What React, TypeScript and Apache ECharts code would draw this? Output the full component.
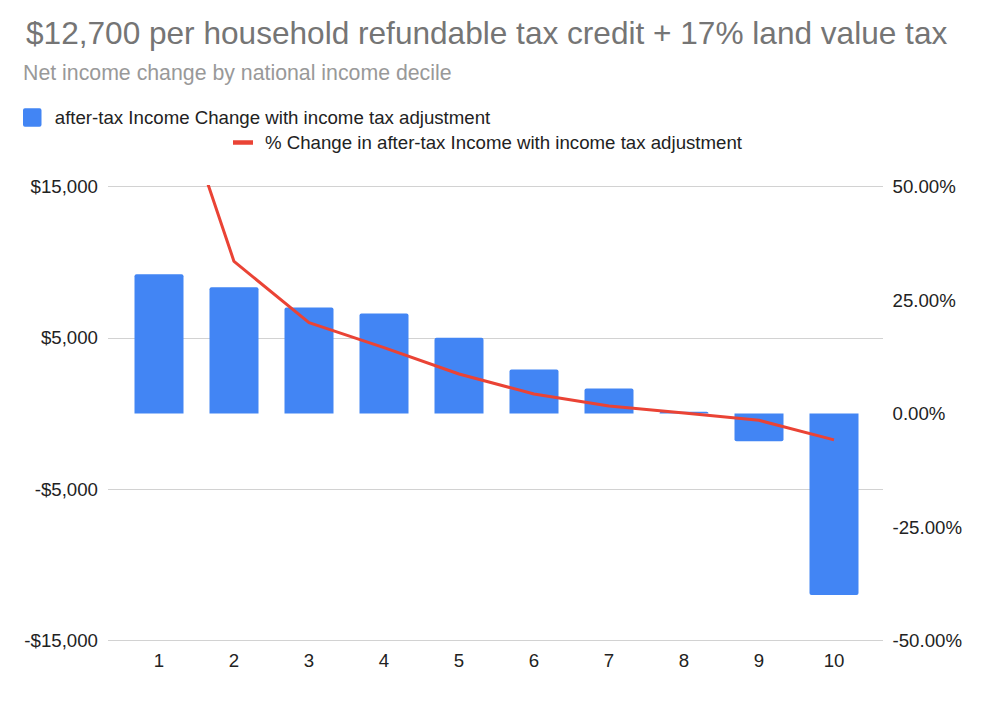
import React, { useEffect, useRef } from "react";
import * as echarts from "echarts";

// Income deciles on the category axis
const deciles = ["1", "2", "3", "4", "5", "6", "7", "8", "9", "10"];

// Net after-tax income change per household, in dollars
const incomeChange = [9200, 8350, 7000, 6600, 5000, 2900, 1650, 120, -1830, -12000];

// Percent change in after-tax income, in percent
const pctChange = [82.5, 33.5, 20.0, 14.5, 8.7, 4.3, 1.65, 0.1, -1.5, -5.8];

// Axis ranges and tick steps
const dollarMin = -15000;
const dollarMax = 15000;
const dollarStep = 10000;
const pctMin = -50;
const pctMax = 50;
const pctStep = 25;

const titleText = "$12,700 per household refundable tax credit + 17% land value tax";
const subtitleText = "Net income change by national income decile";
const barName = "after-tax Income Change with income tax adjustment";
const lineName = "% Change in after-tax Income with income tax adjustment";

const FONT = "'Liberation Sans', Arial, Helvetica, sans-serif";
const BLUE = "#4285F4";
const RED = "#EA4335";
const LABEL = "#222222";
const GRIDLINE = "#d2d2d2";

const fmtDollar = (v: number) =>
  (v < 0 ? "-$" : "$") + Math.abs(v).toLocaleString("en-US");
const fmtPct = (v: number) => v.toFixed(2) + "%";

export default function App() {
  const ref = useRef<HTMLDivElement>(null);

  useEffect(() => {
    document.body.style.margin = "0";
    if (!ref.current) return;
    const chart = echarts.init(ref.current, undefined, { renderer: "svg" });

    const plotTop = 186.5;
    const plotHeight = 454;

    chart.setOption({
      animation: false,
      backgroundColor: "#ffffff",
      textStyle: { fontFamily: FONT },
      title: [
        {
          text: titleText,
          left: 26,
          top: 17,
          padding: 0,
          textStyle: { fontSize: 31.6, fontWeight: "normal", color: "#757575", fontFamily: FONT },
        },
        {
          text: subtitleText,
          left: 23,
          top: 62,
          padding: 0,
          textStyle: { fontSize: 21.3, fontWeight: "normal", color: "#999999", fontFamily: FONT },
        },
      ],
      legend: [
        {
          data: [{ name: barName, icon: "path://M2,0H17A2,2 0 0 1 19,2V17A2,2 0 0 1 17,19H2A2,2 0 0 1 0,17V2A2,2 0 0 1 2,0Z" }],
          left: 23,
          top: 108,
          padding: 0,
          itemWidth: 19,
          itemHeight: 18.5,
          textStyle: { fontSize: 18.67, color: LABEL, fontFamily: FONT, padding: [0, 0, 0, 8] },
        },
        {
          data: [{ name: lineName, icon: "rect" }],
          left: 233,
          top: 133,
          padding: 0,
          itemWidth: 20,
          itemHeight: 4.5,
          textStyle: { fontSize: 18.67, color: LABEL, fontFamily: FONT, padding: [0, 0, 0, 7] },
        },
      ],
      grid: [
        // wider backdrop grid carrying the horizontal gridlines
        { left: 108, top: plotTop, width: 775, height: plotHeight, containLabel: false },
        // plotting grid for the bars and line
        { left: 121.5, top: plotTop, width: 750, height: plotHeight, containLabel: false },
      ],
      xAxis: [
        { gridIndex: 0, type: "value", min: 0, max: 1, show: false },
        {
          gridIndex: 1,
          type: "category",
          data: deciles,
          axisLine: { show: false },
          axisTick: { show: false },
          splitLine: { show: false },
          axisLabel: { color: LABEL, fontSize: 18.67, fontFamily: FONT, margin: 10 },
        },
      ],
      yAxis: [
        {
          gridIndex: 0,
          type: "value",
          min: dollarMin,
          max: dollarMax,
          interval: dollarStep,
          axisLine: { show: false },
          axisTick: { show: false },
          axisLabel: { show: false },
          splitLine: { show: true, lineStyle: { color: GRIDLINE, width: 1 } },
        },
        {
          gridIndex: 1,
          type: "value",
          position: "left",
          min: dollarMin,
          max: dollarMax,
          interval: dollarStep,
          axisLine: { show: false },
          axisTick: { show: false },
          splitLine: { show: false },
          axisLabel: {
            color: LABEL,
            fontSize: 18.67,
            fontFamily: FONT,
            margin: 23.5,
            formatter: fmtDollar,
          },
        },
        {
          gridIndex: 1,
          type: "value",
          position: "right",
          min: pctMin,
          max: pctMax,
          interval: pctStep,
          axisLine: { show: false },
          axisTick: { show: false },
          splitLine: { show: false },
          axisLabel: {
            color: LABEL,
            fontSize: 18.67,
            fontFamily: FONT,
            margin: 21,
            formatter: fmtPct,
          },
        },
      ],
      series: [
        {
          name: barName,
          type: "bar",
          xAxisIndex: 1,
          yAxisIndex: 1,
          barWidth: 49,
          itemStyle: { color: BLUE },
          data: incomeChange.map((v) => ({
            value: v,
            itemStyle: { borderRadius: v >= 0 ? [2, 2, 0, 0] : [0, 0, 2, 2] },
          })),
        },
        {
          name: lineName,
          type: "line",
          xAxisIndex: 1,
          yAxisIndex: 2,
          data: pctChange,
          symbol: "none",
          clip: true,
          color: RED,
          itemStyle: { color: RED },
          lineStyle: { color: RED, width: 3 },
        },
      ],
    });

    return () => chart.dispose();
  }, []);

  return <div ref={ref} style={{ width: 1000, height: 727 }} />;
}
